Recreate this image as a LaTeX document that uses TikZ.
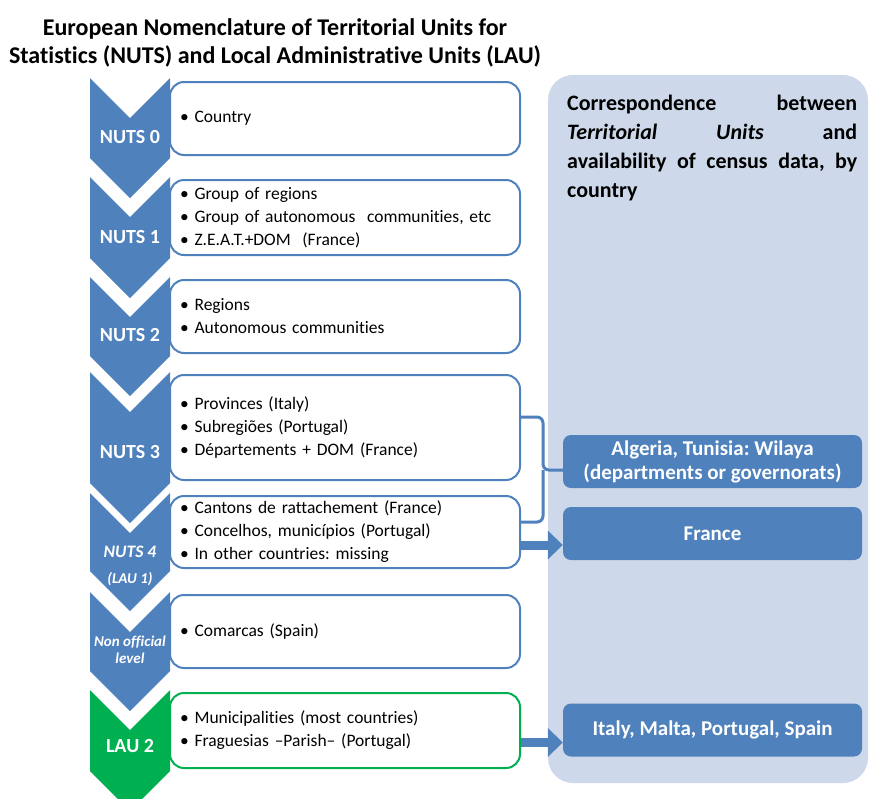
\documentclass[tikz,border=0pt]{standalone}
\usepackage{fontspec}
\setmainfont{Carlito}[Ligatures=NoCommon]
\usepackage{tikz}
\usetikzlibrary{arrows.meta}
\definecolor{nutsblue}{HTML}{4F81BD}
\definecolor{laugreen}{HTML}{00B050}
\definecolor{panelblue}{HTML}{CDD9EA}
\frenchspacing

% chevron of one level: top y, bottom y, colour
\newcommand{\levelchevron}[3]{%
  \fill[#3] (90,#1) -- (130,#1+40) -- (170,#1) -- (170,#2) -- (130,#2+40) -- (90,#2) -- cycle;}

\begin{document}
\begin{tikzpicture}[x=1pt, y=-1pt,
  levelbox/.style={draw=nutsblue, line width=2pt, rounded corners=14pt, fill=white,
    minimum width=350pt, minimum height=74pt, text width=330pt, inner xsep=10pt,
    align=left, font=\fontsize{17.5}{23}\selectfont},
  levellabel/.style={text=white, font=\bfseries\fontsize{20}{22}\selectfont, align=center, inner sep=0pt},
  smalllabel/.style={text=white, font=\bfseries\itshape\fontsize{15}{17}\selectfont, align=center, inner sep=0pt},
  databox/.style={fill=nutsblue, rounded corners=8pt, minimum width=299pt, minimum height=53pt,
    text=white, font=\bfseries\fontsize{21}{24}\selectfont, align=center},
  fatarrow/.style={nutsblue, line width=9pt, -{Triangle[length=15pt,width=28pt]}},
  bracelink/.style={nutsblue, line width=3pt, rounded corners=6pt}]
  \useasboundingbox (0,0) rectangle (869,798);
  % Right panel
  \fill[panelblue, rounded corners=25pt] (548,75) rectangle (868,783);
  % Title
  \node[font=\bfseries\fontsize{24}{28}\selectfont, align=center] (title) at (275,43)
    {European Nomenclature of Territorial Units for\\Statistics (NUTS) and Local Administrative Units (LAU)};
  % Chevrons
  \levelchevron{78}{158}{nutsblue}
  \levelchevron{177}{258}{nutsblue}
  \levelchevron{277}{356}{nutsblue}
  \levelchevron{372}{483}{nutsblue}
  \levelchevron{493}{571}{nutsblue}
  \levelchevron{592}{671}{nutsblue}
  \levelchevron{690}{771}{laugreen}
  \node[levellabel] (lab0) at (130,137) {NUTS 0};
  \node[levellabel] (lab1) at (130,237) {NUTS 1};
  \node[levellabel] (lab2) at (130,335) {NUTS 2};
  \node[levellabel] (lab3) at (130,452) {NUTS 3};
  \node[levellabel, font=\bfseries\itshape\fontsize{17.5}{20}\selectfont] (lab4) at (130,552) {NUTS 4};
  \node[smalllabel] (lab4b) at (130,579) {(LAU 1)};
  \node[smalllabel] (labno) at (130,650) {Non official\\level};
  \node[levellabel] (labl2) at (130,746) {LAU 2};
  % Level boxes
  \node[levelbox, minimum height=73pt] (nuts0) at (345,118.5) {• Country};
  \node[levelbox, minimum height=75pt] (nuts1) at (345,217.5)
    {• Group of regions\\• Group of autonomous\ \ communities, etc\\• Z.E.A.T.+DOM\ \ (France)};
  \node[levelbox, minimum height=73pt] (nuts2) at (345,316.5) {• Regions\\• Autonomous communities};
  \node[levelbox, minimum height=105pt] (nuts3) at (345,427.5)
    {• Provinces (Italy)\\• Subregiões (Portugal)\\• Départements + DOM (France)};
  \node[levelbox, minimum height=72pt] (nuts4) at (345,532)
    {• Cantons de rattachement (France)\\• Concelhos, municípios (Portugal)\\• In other countries: missing};
  \node[levelbox, minimum height=73pt] (nonoff) at (345,631.5) {• Comarcas (Spain)};
  \node[levelbox, draw=laugreen, minimum height=75pt] (lau2) at (345,730.5)
    {• Municipalities (most countries)\\• Fraguesias –Parish– (Portugal)};
  % Panel heading
  \node[anchor=west, inner sep=0pt, align=left, font=\bfseries\fontsize{22}{29}\selectfont] (heading) at (567,148)
    {\makebox[290pt][s]{Correspondence between}\\
     \makebox[290pt][s]{\textit{Territorial} \textit{Units} and}\\
     \makebox[290pt][s]{availability of census data, by}\\
     country};
  % Census data boxes
  \node[databox] (algeria) at (712.5,461.5) {Algeria, Tunisia: Wilaya\\(departments or governorats)};
  \node[databox] (france) at (712.5,533.5) {France};
  \node[databox] (italy) at (712.5,730) {Italy, Malta, Portugal, Spain};
  % Brace from NUTS 3 and NUTS 4
  \coordinate (bt) at ([yshift=-43pt]nuts3.north east);
  \coordinate (bb) at ([yshift=-27pt]nuts4.north east);
  \coordinate (bm) at (543,470);
  \draw[bracelink] (bt) -| (bm) -- (bm -| algeria.west);
  \draw[bracelink] (bb) -| (bm);
  % Arrows
  \coordinate (a4) at ([yshift=-13pt]nuts4.east);
  \draw[fatarrow] (a4) -- (a4 -| france.west);
  \coordinate (al) at ([yshift=-12pt]lau2.east);
  \draw[fatarrow] (al) -- (al -| italy.west);
\end{tikzpicture}
\end{document}
